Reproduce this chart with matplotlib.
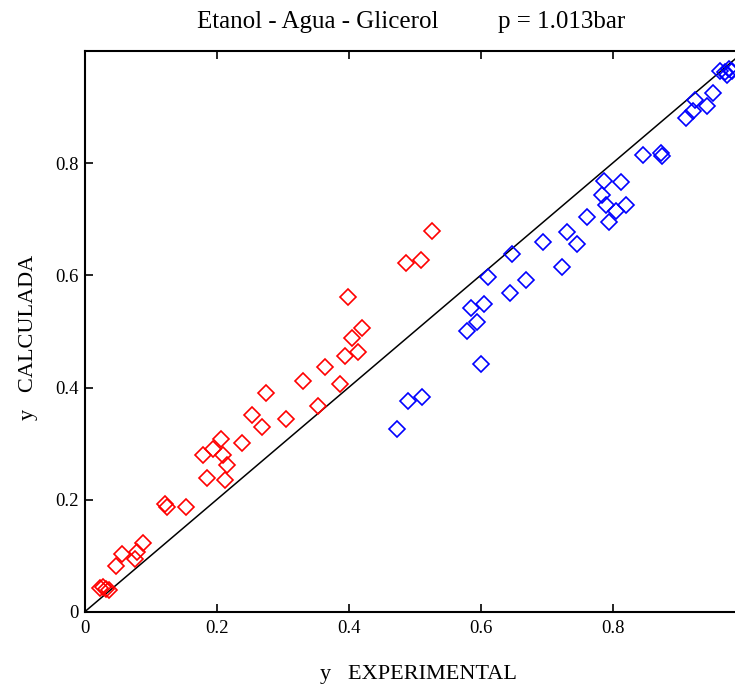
import matplotlib
matplotlib.use("Agg")
import matplotlib.pyplot as plt
from matplotlib.ticker import FuncFormatter

plt.rcParams["font.family"] = ["Liberation Serif", "DejaVu Serif"]

# Ethanol-rich phase (red) : experimental vs calculated vapour fraction
y_exp_red = [0.0235, 0.0285, 0.0321, 0.0371, 0.0473, 0.0573, 0.0765, 0.0791, 0.0891,
             0.1220, 0.1255, 0.1538, 0.1800, 0.1861, 0.1942, 0.2064, 0.2094, 0.2129,
             0.2164, 0.2382, 0.2533, 0.2685, 0.2750, 0.3053, 0.3315, 0.3533, 0.3644,
             0.3871, 0.3947, 0.3988, 0.4053, 0.4140, 0.4209, 0.4871, 0.5094, 0.5270]
y_calc_red = [0.0423, 0.0452, 0.0411, 0.0393, 0.0821, 0.1036, 0.0946, 0.1077, 0.1238,
              0.1929, 0.1880, 0.1880, 0.2804, 0.2388, 0.2905, 0.3089, 0.2804, 0.2357,
              0.2625, 0.3013, 0.3505, 0.3295, 0.3910, 0.3443, 0.4120, 0.3666, 0.4370,
              0.4071, 0.4559, 0.5620, 0.4893, 0.4638, 0.5054, 0.6227, 0.6273, 0.6791]

# Second component (blue)
y_exp_blue = [0.4730, 0.4906, 0.5118, 0.5791, 0.5852, 0.5942, 0.6008, 0.6053, 0.6118,
              0.6447, 0.6473, 0.6685, 0.6942, 0.7239, 0.7306, 0.7458, 0.7618, 0.7836,
              0.7871, 0.7902, 0.7947, 0.8053, 0.8124, 0.8200, 0.8467, 0.8730, 0.8755,
              0.9114, 0.9224, 0.9250, 0.9427, 0.9527, 0.9629, 0.9705, 0.9730, 0.9770,
              0.9806]
y_calc_blue = [0.3268, 0.3768, 0.3827, 0.5005, 0.5411, 0.5166, 0.4423, 0.5495, 0.5977,
               0.5679, 0.6388, 0.5916, 0.6602, 0.6148, 0.6773, 0.6554, 0.7041, 0.7429,
               0.7684, 0.7255, 0.6952, 0.7148, 0.7666, 0.7255, 0.8148, 0.8179, 0.8120,
               0.8798, 0.8934, 0.9130, 0.9023, 0.9245, 0.9648, 0.9620, 0.9571, 0.9679,
               0.9643]

diag = [0.0, 1.0]
ticks = [0.0, 0.2, 0.4, 0.6, 0.8]

W, H = 735, 688
fig = plt.figure(figsize=(W / 100, H / 100), dpi=100)
ax = fig.add_axes([84.5 / W, (H - 612) / H, 660 / W, 561 / H])

ax.plot(diag, diag, color="black", lw=1.1, zorder=2)
ax.plot(y_exp_red, y_calc_red, linestyle="none", marker="D", ms=8.5,
        mfc="none", mec="#ff0000", mew=1.2, zorder=3, clip_on=False)
ax.plot(y_exp_blue, y_calc_blue, linestyle="none", marker="D", ms=8.5,
        mfc="none", mec="#0000ff", mew=1.2, zorder=3, clip_on=False)

ax.set_xlim(0, 1.0)
ax.set_ylim(0, 1.0)
ax.set_xticks(ticks)
ax.set_yticks(ticks)
fmt = FuncFormatter(lambda v, p: "0" if v == 0 else f"{v:.1f}")
ax.xaxis.set_major_formatter(fmt)
ax.yaxis.set_major_formatter(fmt)
ax.tick_params(direction="in", length=6, width=1.2, labelsize=13.5,
               top=True, right=True, pad=6)
ax.tick_params(axis="y", pad=4)
for s in ax.spines.values():
    s.set_linewidth(1.5)

fig.text(197 / W, 1 - 22 / H, "Etanol - Agua - Glicerol", fontsize=18,
         ha="left", va="center")
fig.text(498 / W, 1 - 22 / H, "p = 1.013bar", fontsize=18,
         ha="left", va="center")
fig.text(418 / W, 1 - 675 / H, "y   EXPERIMENTAL", fontsize=16,
         ha="center", va="center")
fig.text(28 / W, 1 - 337 / H, "y   CALCULADA", fontsize=16,
         ha="center", va="center", rotation=90)

fig.savefig("out.png", dpi=100)
